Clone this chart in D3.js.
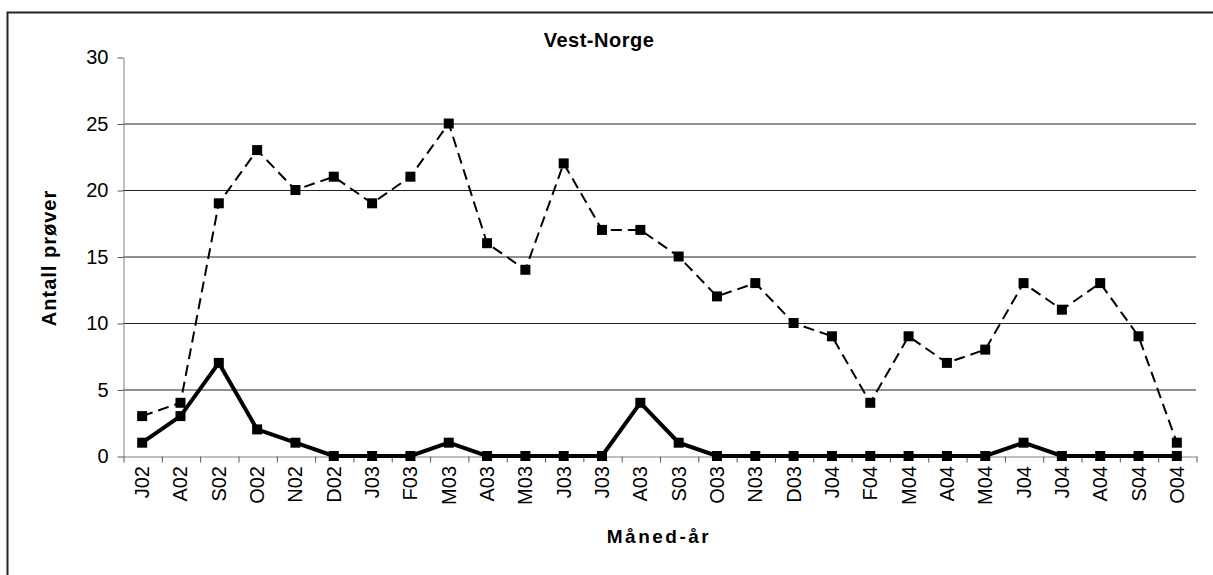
<!doctype html>
<html>
<head>
    <title>Vest-Norge</title>
    <script src="https://d3js.org/d3.v7.min.js"></script>
    <style>
        body { margin: 0; background: #fff; }
        text { font-family: Arial, "Liberation Sans", sans-serif; }
    </style>
</head>
<body>
<svg width="1213" height="575"></svg>
<script>
    // month labels (x axis)
    var months = ["J02","A02","S02","O02","N02","D02","J03","F03","M03","A03","M03","J03","J03","A03",
                  "S03","O03","N03","D03","J04","F04","M04","A04","M04","J04","J04","A04","S04","O04"];
    // dashed series
    var totalSamples = [3,4,19,23,20,21,19,21,25,16,14,22,17,17,15,12,13,10,9,4,9,7,8,13,11,13,9,1];
    // thick solid series
    var positiveSamples = [1,3,7,2,1,0,0,0,1,0,0,0,0,4,1,0,0,0,0,0,0,0,0,1,0,0,0,0];
    var yTicks = [0,5,10,15,20,25,30];

    var svg = d3.select("svg");
    // plot area edges
    var pLeft = 123, pRight = 1196, pTop = 57, pBottom = 456;

    // outer chart frame
    svg.append("rect")
        .attr("x", 7.5).attr("y", 12.5)
        .attr("width", 1230).attr("height", 620)
        .attr("fill", "none")
        .attr("stroke", "#222")
        .attr("stroke-width", 2);

    var idx = d3.range(months.length);
    var x = d3.scaleBand().domain(idx).range([pLeft, pRight]);
    var xEdge = d3.scaleLinear().domain([0, months.length]).range([pLeft, pRight]);
    var y = d3.scaleLinear().domain([0, 30]).range([pBottom, pTop]);

    // gridlines
    svg.append("g")
        .selectAll("line")
        .data(yTicks.filter(function(d) { return d > 0 && d < 30; }))
        .enter().append("line")
        .attr("x1", pLeft).attr("x2", pRight)
        .attr("y1", function(d) { return y(d) + 0.5; })
        .attr("y2", function(d) { return y(d) + 0.5; })
        .attr("stroke", "#222")
        .attr("stroke-width", 1);

    // y axis
    var yAxis = svg.append("g")
        .attr("transform", "translate(" + (pLeft + 0.5) + ",0.5)")
        .call(d3.axisLeft(y).tickValues(yTicks).tickSize(6).tickSizeOuter(0).tickPadding(9));
    yAxis.select(".domain").attr("stroke", "#808080");
    yAxis.selectAll(".tick line").attr("stroke", "#555");
    yAxis.selectAll("text").style("font-size", "20px").attr("fill", "#000");

    // x axis with ticks at category edges
    var xAxis = svg.append("g")
        .attr("transform", "translate(0.5," + (pBottom + 0.5) + ")")
        .call(d3.axisBottom(xEdge).ticks(months.length).tickSize(6).tickSizeOuter(0).tickFormat(""));
    xAxis.select(".domain").attr("stroke", "#808080");
    xAxis.selectAll(".tick line").attr("stroke", "#555");

    // x labels rotated
    svg.append("g")
        .selectAll("text")
        .data(idx)
        .enter().append("text")
        .attr("transform", function(d) {
            return "translate(" + (x(d) + x.bandwidth() / 2) + "," + (pBottom + 10) + ") rotate(-90)";
        })
        .attr("text-anchor", "end")
        .attr("dy", "0.35em")
        .style("font-size", "20px")
        .text(function(d) { return months[d]; });

    var line = function(vals) {
        return d3.line()
            .x(function(d) { return x(d) + x.bandwidth() / 2; })
            .y(function(d) { return y(vals[d]); })(idx);
    };

    // dashed series
    svg.append("path")
        .attr("d", line(totalSamples))
        .attr("fill", "none")
        .attr("stroke", "#000")
        .attr("stroke-width", 2)
        .attr("stroke-dasharray", "11,6");

    // solid series
    svg.append("path")
        .attr("d", line(positiveSamples))
        .attr("fill", "none")
        .attr("stroke", "#000")
        .attr("stroke-width", 4)
        .attr("stroke-linejoin", "miter");

    // square markers
    [totalSamples, positiveSamples].forEach(function(vals) {
        svg.append("g")
            .selectAll("rect")
            .data(idx)
            .enter().append("rect")
            .attr("x", function(d) { return x(d) + x.bandwidth() / 2 - 5; })
            .attr("y", function(d) { return y(vals[d]) - 5; })
            .attr("width", 10).attr("height", 10)
            .attr("fill", "#000");
    });

    // titles
    svg.append("text")
        .attr("x", 599).attr("y", 47)
        .attr("text-anchor", "middle")
        .style("font-size", "20px").style("font-weight", "bold")
        .style("letter-spacing", "0.5px")
        .text("Vest-Norge");

    svg.append("text")
        .attr("transform", "translate(56,258) rotate(-90)")
        .attr("text-anchor", "middle")
        .style("font-size", "20px").style("font-weight", "bold")
        .style("letter-spacing", "1px")
        .text("Antall prøver");

    svg.append("text")
        .attr("x", 659).attr("y", 543)
        .attr("text-anchor", "middle")
        .style("font-size", "19px").style("font-weight", "bold")
        .style("letter-spacing", "2.5px")
        .text("Måned-år");
</script>
</body>
</html>
